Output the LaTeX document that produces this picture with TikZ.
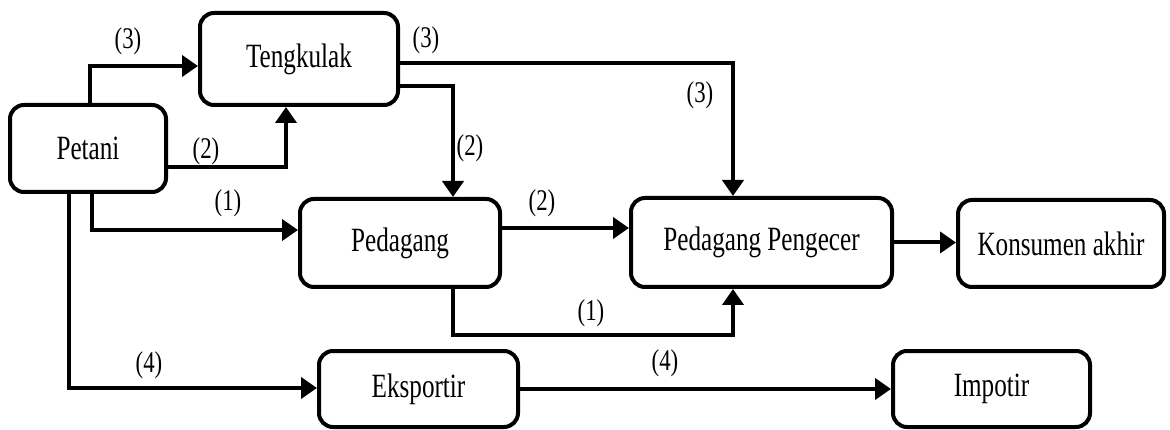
\documentclass[tikz,border=0pt]{standalone}
\usepackage{fontspec}
\setmainfont{Liberation Serif}
\newfontfamily\nodefont[FakeStretch=0.74]{Liberation Serif}
\newfontfamily\labfont[FakeStretch=0.76]{Liberation Serif}
\usetikzlibrary{arrows.meta}
\begin{document}
\begin{tikzpicture}[x=1pt,y=-1pt,
  box/.style={draw=black,line width=4pt,rounded corners=14pt,fill=white,
    inner sep=0pt,font=\nodefont\fontsize{34}{38}\selectfont},
  arr/.style={line width=4pt,-{Triangle[length=16pt,width=21pt]}},
  lab/.style={inner sep=0pt,font=\labfont\fontsize{30}{33}\selectfont}]
\useasboundingbox (0,0) rectangle (1170,430);
\node[box,minimum width=156pt,minimum height=87pt] (pet) at (88,148.5) {Petani};
\node[box,minimum width=198pt,minimum height=92pt] (ten) at (299,59) {Tengkulak};
\node[box,minimum width=200pt,minimum height=88pt] (ped) at (400,243) {Pedagang};
\node[box,minimum width=261pt,minimum height=89pt] (pp) at (761.5,242.5) {Pedagang Pengecer};
\node[box,minimum width=206pt,minimum height=87pt] (kon) at (1061,243.5) {Konsumen akhir};
\node[box,minimum width=199pt,minimum height=76pt] (eks) at (418.5,389) {Eksportir};
\node[box,minimum width=197pt,minimum height=76pt] (imp) at (991.5,389) {Impotir};
\coordinate (c1) at (600,335);
% connectors
\draw[arr] (pet.north -| 90,0) |- (ten.west |- 0,66);
\draw[arr] (pet.east |- 0,167) -| (ten.south -| 286,0);
\draw[arr] (ten.east |- 0,63) -| (pp.north -| 733,0);
\draw[arr] (ten.east |- 0,86) -| (ped.north -| 453,0);
\draw[arr] (pet.south -| 92,0) |- (ped.west |- 0,230);
\draw[arr] (pet.south -| 69,0) |- (eks.west |- 0,388);
\draw[arr] (ped.east |- 0,228) -- (pp.west |- 0,228);
\draw[arr] (ped.south -| 453,0) |- (c1) -| (pp.south -| 733,0);
\draw[arr] (pp.east) -- (kon.west |- pp.east);
\draw[arr] (eks.east) -- (imp.west);
% labels
\node[lab] (l1) at (128,41) {(3)};
\node[lab] (l2) at (206,151) {(2)};
\node[lab] (l3) at (426,40) {(3)};
\node[lab] (l4) at (700,95) {(3)};
\node[lab] (l5) at (470,148) {(2)};
\node[lab] (l6) at (542,203) {(2)};
\node[lab] (l7) at (228,203) {(1)};
\node[lab] (l8) at (591,313) {(1)};
\node[lab] (l9) at (149,365) {(4)};
\node[lab] (l10) at (665,363) {(4)};
\end{tikzpicture}
\end{document}
